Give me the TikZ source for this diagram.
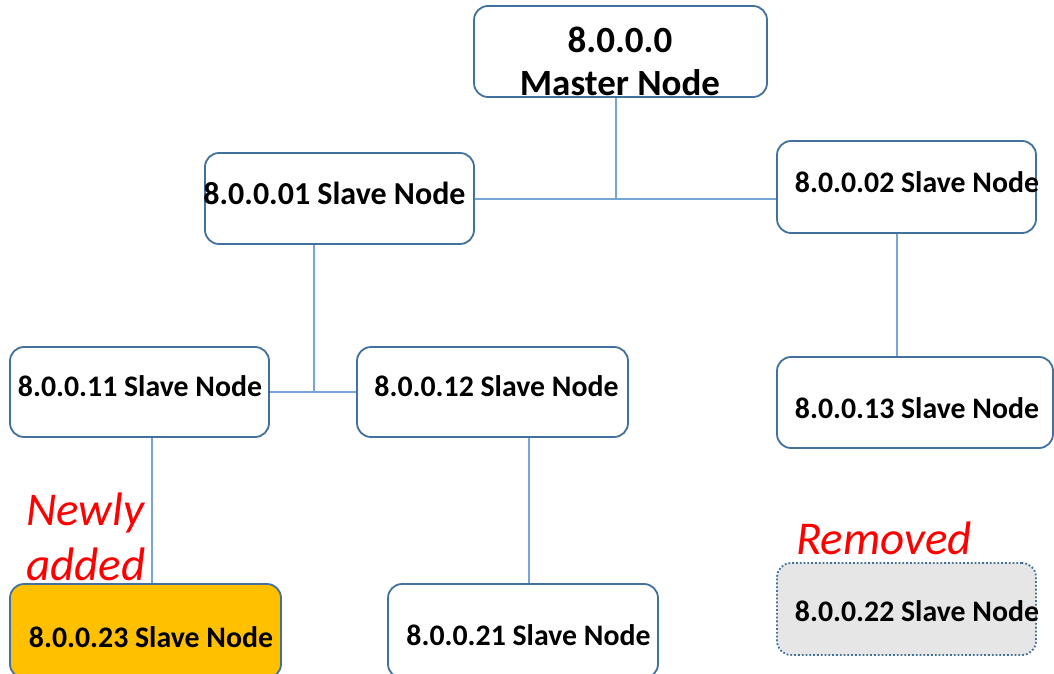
\documentclass[tikz,border=0pt]{standalone}
\usepackage{fontspec}
\setmainfont{Carlito}
\definecolor{boxline}{RGB}{65,113,156}
\definecolor{conn}{RGB}{120,165,215}
\definecolor{newfill}{RGB}{255,192,0}
\definecolor{remfill}{RGB}{231,230,230}
\begin{document}
\begin{tikzpicture}[x=1pt,y=-1pt,
  box/.style={draw=boxline, line width=1.8pt, rounded corners=14pt, fill=white, inner sep=0pt},
  lbl/.style={inner sep=0pt, font=\bfseries\fontsize{29.8}{35}\selectfont},
  note/.style={inner sep=0pt, text=red, font=\itshape\fontsize{47}{56}\selectfont, anchor=base west},
  conline/.style={draw=conn, line width=1.1pt}]
\useasboundingbox (0,0) rectangle (1054,674);
% boxes
\node[box, minimum width=293pt, minimum height=91pt] (m) at (620.5,51.5) {};
\node[box, minimum width=269pt, minimum height=91pt] (n01) at (339.5,198.5) {};
\node[box, minimum width=259pt, minimum height=92pt] (n02) at (906.5,187) {};
\node[box, minimum width=259pt, minimum height=90pt] (n11) at (139.5,392) {};
\node[box, minimum width=271pt, minimum height=90pt] (n12) at (492.5,392) {};
\node[box, minimum width=276pt, minimum height=91pt] (n13) at (915,402.5) {};
\node[box, fill=newfill, minimum width=271pt, minimum height=94pt] (n23) at (145.5,631) {};
\node[box, minimum width=270pt, minimum height=94pt] (n21) at (523,631) {};
\node[box, fill=remfill, dotted, minimum width=259pt, minimum height=92pt] (n22) at (906.5,609) {};
% texts
\node[inner sep=0pt, font=\bfseries\fontsize{37}{44}\selectfont] (tm1) at (620,40) {8.0.0.0};
\node[inner sep=0pt, font=\bfseries\fontsize{37}{44}\selectfont] (tm2) at (620,83) {Master Node};
\node[lbl, font=\bfseries\fontsize{32}{38}\selectfont] (t01) at (334.5,193) {8.0.0.01 Slave Node};
\node[lbl] (t02) at (917,182) {8.0.0.02 Slave Node};
\node[lbl] (t11) at (140,386) {8.0.0.11 Slave Node};
\node[lbl] (t12) at (496.5,386) {8.0.0.12 Slave Node};
\node[lbl] (t13) at (917,408) {8.0.0.13 Slave Node};
\node[lbl] (t23) at (151,637) {8.0.0.23 Slave Node};
\node[lbl] (t21) at (528.5,635) {8.0.0.21 Slave Node};
\node[lbl] (t22) at (917,611) {8.0.0.22 Slave Node};
\node[note] (newly) at (26,525) {Newly};
\node[note] (added) at (26,580) {added};
\node[note] (removed) at (796,554) {Removed};
% connectors
\coordinate (j1) at (616,199);
\coordinate (j2) at (314,392);
\coordinate (j3) at (897,300);
\coordinate (j4) at (152,500);
\coordinate (j5) at (529,500);
\draw[conline] (m.south -| j1) -- (j1);
\draw[conline] (n01.east |- j1) -- (n02.west |- j1);
\draw[conline] (n01.south -| j2) -- (j2);
\draw[conline] (n11.east |- j2) -- (n12.west |- j2);
\draw[conline] (n02.south -| j3) -- (n13.north -| j3);
\draw[conline] (n11.south -| j4) -- (n23.north -| j4);
\draw[conline] (n12.south -| j5) -- (n21.north -| j5);
\end{tikzpicture}
\end{document}
